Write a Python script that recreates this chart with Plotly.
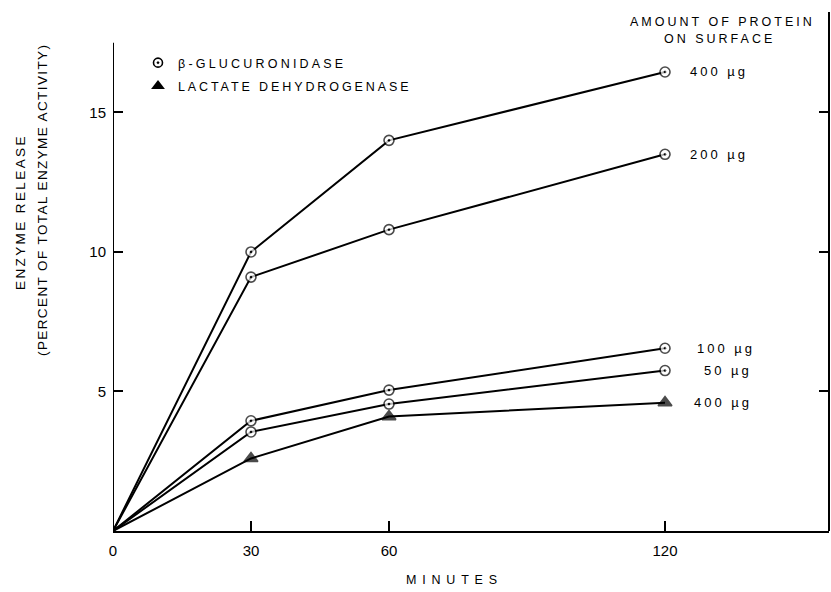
import plotly.graph_objects as go

minutes = [0, 30, 60, 120]
beta_400 = [0, 10.0, 14.0, 16.45]
beta_200 = [0, 9.1, 10.8, 13.5]
beta_100 = [0, 3.95, 5.05, 6.55]
beta_50 = [0, 3.55, 4.55, 5.75]
ldh_400 = [0, 2.6, 4.1, 4.6]

series = [
    ("400 µg", beta_400, "circle-dot"),
    ("200 µg", beta_200, "circle-dot"),
    ("100 µg", beta_100, "circle-dot"),
    ("50 µg", beta_50, "circle-dot"),
    ("400 µg", ldh_400, "triangle-up"),
]
label_shift = [23, 23, 30, 37, 27]

x_ticks = [0, 30, 60, 120]
y_ticks = [5, 10, 15]

FONT = "Liberation Sans, Arial, sans-serif"


def sp(text, ls):
    return f'<span style="letter-spacing:{ls}px">{text}</span>'


fig = go.Figure()

for (name, ys, sym) in series:
    is_tri = sym == "triangle-up"
    sizes = [0] + [12 if is_tri else 10] * (len(ys) - 1)
    fig.add_trace(go.Scatter(
        x=minutes, y=ys, mode="lines+markers",
        line=dict(color="black", width=2),
        marker=dict(symbol=sym, size=sizes,
                    color="black" if is_tri else "white",
                    line=dict(color="black", width=1.6)),
        showlegend=False, hoverinfo="skip",
    ))

# legend entries
fig.add_trace(go.Scatter(
    x=[None], y=[None], mode="markers", name=sp("β-GLUCURONIDASE", 3.2),
    marker=dict(symbol="circle-dot", size=9, color="white",
                line=dict(color="black", width=1.6)),
    legendgroup="a",
))
fig.add_trace(go.Scatter(
    x=[None], y=[None], mode="markers", name=sp("LACTATE DEHYDROGENASE", 2.9),
    marker=dict(symbol="triangle-up", size=12, color="black"),
    legendgroup="b",
))

annotations = []
for (name, ys, sym), dx in zip(series, label_shift):
    annotations.append(dict(
        x=minutes[-1], y=ys[-1], xref="x", yref="y", text=sp(name, 3),
        showarrow=False, xanchor="left", yanchor="middle", xshift=dx,
        font=dict(size=13, color="black", family=FONT),
    ))

annotations += [
    dict(x=722, y=592 - 22, xref="paper", yref="paper", text=sp("AMOUNT OF PROTEIN", 3),
         showarrow=False, xanchor="center", yanchor="middle",
         font=dict(size=12.5, color="black", family=FONT)),
    dict(x=719, y=592 - 39, xref="paper", yref="paper", text=sp("ON SURFACE", 3),
         showarrow=False, xanchor="center", yanchor="middle",
         font=dict(size=12.5, color="black", family=FONT)),
    dict(x=454, y=592 - 580, xref="paper", yref="paper", text=sp("MINUTES", 5.8),
         showarrow=False, xanchor="center", yanchor="middle",
         font=dict(size=12.5, color="black", family=FONT)),
    dict(x=21, y=592 - 212, xref="paper", yref="paper", text=sp("ENZYME RELEASE", 2.4),
         showarrow=False, xanchor="center", yanchor="middle", textangle=-90,
         font=dict(size=13.5, color="black", family=FONT)),
    dict(x=43, y=592 - 200, xref="paper", yref="paper",
         text=sp("(PERCENT OF TOTAL ENZYME ACTIVITY)", 1.4),
         showarrow=False, xanchor="center", yanchor="middle", textangle=-90,
         font=dict(size=13.5, color="black", family=FONT)),
]

# convert pixel-based paper annotations
L, R, T, B = 113, 2, 12, 61
W, H = 831, 592
pw, ph = W - L - R, H - T - B
for a in annotations:
    if a["xref"] == "paper":
        a["x"] = (a["x"] - L) / pw
        a["y"] = (a["y"] - B) / ph

fig.update_layout(
    width=W, height=H,
    margin=dict(l=L, r=R, t=T, b=B, pad=0),
    paper_bgcolor="white", plot_bgcolor="white",
    font=dict(family=FONT, color="black", size=14),
    annotations=annotations,
    showlegend=True,
    legend=dict(x=(138 - L) / pw, y=(H - 48 - B) / ph, xanchor="left", yanchor="top",
                bgcolor="rgba(0,0,0,0)", font=dict(size=12.5, family=FONT, color="black"),
                tracegroupgap=4, traceorder="grouped", itemwidth=30),
    xaxis=dict(range=[0, 155.65], tickvals=x_ticks, ticktext=[str(v) for v in x_ticks],
               ticks="inside", ticklen=10, tickwidth=1.5, tickcolor="black",
               showline=True, linewidth=2, linecolor="black",
               showgrid=False, zeroline=False, ticklabelstandoff=5,
               tickfont=dict(size=15)),
    yaxis=dict(range=[0, 18.6], tickvals=y_ticks, ticktext=[str(v) for v in y_ticks],
               ticks="inside", ticklen=10, tickwidth=1.5, tickcolor="black",
               showline=False, mirror="ticks",
               showgrid=False, zeroline=False, ticklabelstandoff=6,
               tickfont=dict(size=15)),
    shapes=[
        dict(type="line", xref="x", yref="y", x0=0, x1=0, y0=0, y1=17.5,
             line=dict(color="black", width=2)),
        dict(type="line", xref="paper", yref="paper", x0=1, x1=1, y0=0, y1=1,
             line=dict(color="black", width=2)),
    ],
)

fig.write_html("out.html")
